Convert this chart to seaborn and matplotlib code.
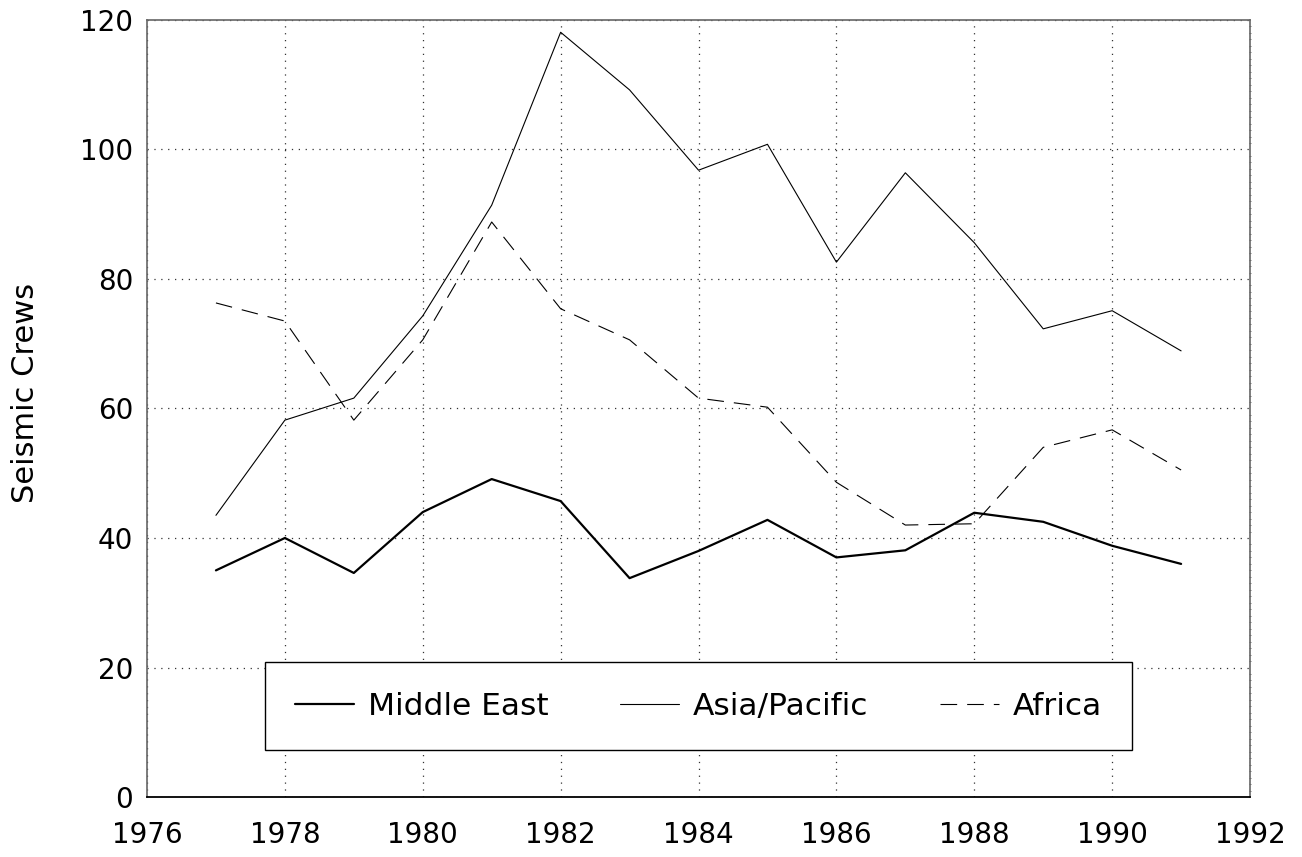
import matplotlib
matplotlib.use("Agg")
import matplotlib.pyplot as plt
from matplotlib.ticker import MultipleLocator
import seaborn as sns
import pandas as pd

years = list(range(1977, 1992))
middle_east = [35, 40, 34.6, 44, 49.1, 45.7, 33.8, 38, 42.8, 37, 38.1, 43.9, 42.5, 38.8, 36]
asia_pacific = [43.5, 58.2, 61.6, 74.3, 91.4, 118.1, 109.2, 96.8, 100.8, 82.6, 96.4, 85.6, 72.3, 75.1, 68.9]
africa = [76.3, 73.5, 58.2, 70.6, 88.8, 75.4, 70.6, 61.6, 60.2, 48.6, 42, 42.2, 54, 56.7, 50.5]

series = [
    ("Middle East", middle_east, dict(lw=1.6, ls="-")),
    ("Asia/Pacific", asia_pacific, dict(lw=0.8, ls="-")),
    ("Africa", africa, dict(lw=0.8, ls=(0, (15, 9)))),
]

sns.set_style("white")
plt.rcParams["font.family"] = ["DejaVu Sans"]
plt.rcParams["text.color"] = "black"
plt.rcParams["axes.labelcolor"] = "black"
plt.rcParams["xtick.color"] = "black"
plt.rcParams["ytick.color"] = "black"

fig = plt.figure(figsize=(13.02, 8.57), dpi=100)
ax = fig.add_axes([0.1129, 0.070, 0.8472, 0.9067])

for name, vals, st in series:
    df = pd.DataFrame({"year": years, "crews": vals})
    sns.lineplot(data=df, x="year", y="crews", ax=ax, color="black",
                 linewidth=st["lw"], linestyle=st["ls"], label=name)

ax.set_xlim(1976, 1992)
ax.set_ylim(0, 120)
ax.xaxis.set_major_locator(MultipleLocator(2))
ax.xaxis.set_minor_locator(MultipleLocator(1))
ax.yaxis.set_major_locator(MultipleLocator(20))
ax.yaxis.set_minor_locator(MultipleLocator(1))

ax.grid(True, which="major", color="#333333", linestyle=(0, (1, 4.5)), linewidth=0.9)
ax.set_axisbelow(True)

ax.tick_params(axis="x", which="major", direction="inout", length=19, width=1,
               labelsize=20, pad=8, color="black", labelcolor="black")
ax.tick_params(axis="x", which="minor", direction="in", length=10.5, width=1, color="black")
ax.tick_params(axis="y", which="major", direction="in", length=9, width=1.2,
               labelsize=20, pad=10, color="#444444", labelcolor="black")
ax.tick_params(axis="y", which="minor", direction="inout", length=2, width=0.6,
               right=True, color="#666666")

for side in ["left", "top", "right"]:
    ax.spines[side].set_color("#666666")
    ax.spines[side].set_linewidth(1.2)
ax.spines["bottom"].set_color("black")
ax.spines["bottom"].set_linewidth(1.3)

ax.set_xlabel("")
ax.set_ylabel("Seismic Crews", fontsize=22, color="black")
ax.yaxis.set_label_coords(-0.097, 0.52)

leg = ax.legend(loc="lower left", bbox_to_anchor=(0.107, 0.060, 0.786, 0.116),
                mode="expand", ncol=3, fontsize=22.5, frameon=True, fancybox=False,
                handlelength=1.9, handletextpad=0.45, borderpad=0.95, borderaxespad=0)
leg.get_frame().set_edgecolor("black")
leg.get_frame().set_linewidth(1.0)
leg.get_frame().set_alpha(1)
for t in leg.get_texts():
    t.set_color("black")

fig.savefig("out.png", dpi=100)
